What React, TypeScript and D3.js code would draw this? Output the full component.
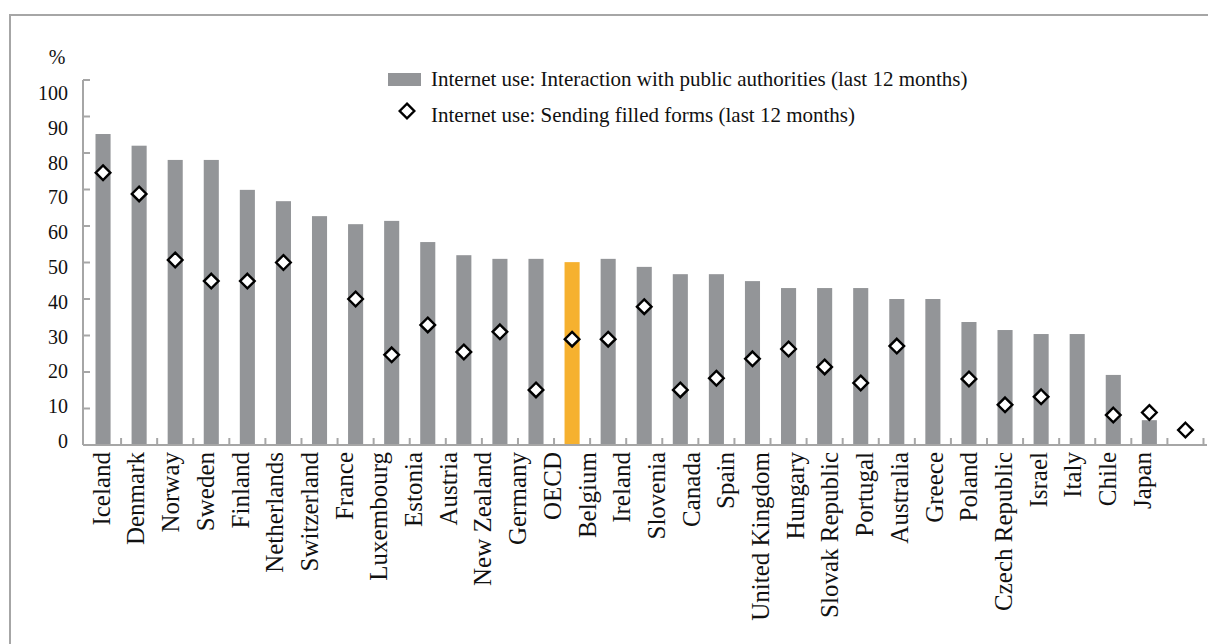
import React from "react";
import * as d3 from "d3";

const categories = [
  "Iceland", "Denmark", "Norway", "Sweden", "Finland", "Netherlands", "Switzerland",
  "France", "Luxembourg", "Estonia", "Austria", "New Zealand", "Germany", "OECD",
  "Belgium", "Ireland", "Slovenia", "Canada", "Spain", "United Kingdom", "Hungary",
  "Slovak Republic", "Portugal", "Australia", "Greece", "Poland", "Czech Republic",
  "Israel", "Italy", "Chile", "Japan",
];

const interaction: (number | null)[] = [
  85.2, 82.0, 78.1, 78.1, 69.9, 66.8, 62.7, 60.5, 61.4, 55.6, 52.0, 51.0, 51.0, 50.1,
  51.0, 48.8, 46.8, 46.8, 44.9, 43.0, 43.0, 43.0, 40.0, 40.0, 33.7, 31.5, 30.4, 30.4,
  19.2, 6.8, null,
];

const sendingForms: (number | null)[] = [
  74.6, 68.8, 50.7, 44.9, 44.9, 50.0, null, 40.0, 24.7, 32.9, 25.5, 31.0, 15.1, 29.0,
  29.0, 37.9, 15.1, 18.3, 23.6, 26.3, 21.4, 17.0, 27.1, null, 18.1, 11.0, 13.2, null,
  8.2, 8.9, 4.1,
];

const yTicks = [0, 10, 20, 30, 40, 50, 60, 70, 80, 90, 100];
const highlight = "OECD";
const legendLabels = [
  "Internet use: Interaction with public authorities (last 12 months)",
  "Internet use: Sending filled forms (last 12 months)",
];

const FONT = "'Liberation Serif', 'Times New Roman', serif";
const GRAY = "#939598";
const ORANGE = "#F6B12F";
const AXIS = "#A6A6A6";

export default function App() {
  const W = 1208;
  const H = 644;
  const n = categories.length;
  const step = 36.08;
  const x0 = 85;
  const pad = 21 / step;
  const xBar = d3
    .scaleBand<string>()
    .domain(categories)
    .range([x0, x0 + n * step])
    .paddingInner(pad)
    .paddingOuter(pad / 2);
  const xLabel = d3.scaleBand<string>().domain(categories).range([83.6, 1159.4]);
  const y = d3.scaleLinear().domain([0, 100]).range([445, 80]);
  const yLabel = d3.scaleLinear().domain([0, 100]).range([441, 93]);

  const bw = xBar.bandwidth();
  const axisLeft = 83;
  const axisRight = 1207;
  const boundaries = d3.range(1, n + 1).map((k) => x0 + k * xBar.step());

  const diamond = (cx: number, cy: number, r: number) =>
    `M${cx},${cy - r}L${cx + r},${cy}L${cx},${cy + r}L${cx - r},${cy}Z`;

  return (
    <svg
      width={W}
      height={H}
      style={{ position: "absolute", left: 0, top: 0, background: "#fff" }}
      fontFamily={FONT}
    >
      <rect x={0} y={0} width={W} height={H} fill="#fff" />
      <rect x={10} y={15} width={1240} height={700} fill="none" stroke={AXIS} strokeWidth={2} />

      {/* bars */}
      {categories.map((c, i) =>
        interaction[i] == null ? null : (
          <rect
            key={"b" + c}
            x={xBar(c)!}
            y={y(interaction[i] as number)}
            width={bw}
            height={y(0) - y(interaction[i] as number)}
            fill={c === highlight ? ORANGE : GRAY}
          />
        )
      )}

      {/* axes */}
      <line x1={axisLeft} x2={axisLeft} y1={y(100)} y2={y(0)} stroke={AXIS} strokeWidth={2} />
      {yTicks.map((t) => (
        <line key={"yt" + t} x1={axisLeft} x2={axisLeft + 7} y1={y(t)} y2={y(t)} stroke={AXIS} strokeWidth={2} />
      ))}
      <line x1={axisLeft} x2={axisRight} y1={y(0)} y2={y(0)} stroke={AXIS} strokeWidth={2} />
      {boundaries.map((bx, k) => (
        <line key={"xt" + k} x1={bx} x2={bx} y1={y(0)} y2={y(0) - 7} stroke={AXIS} strokeWidth={2} />
      ))}

      {/* diamonds */}
      {categories.map((c, i) =>
        sendingForms[i] == null ? null : (
          <path
            key={"d" + c}
            d={diamond(xBar(c)! + bw / 2, y(sendingForms[i] as number), 7.3)}
            fill="#fff"
            stroke="#000"
            strokeWidth={2.4}
          />
        )
      )}

      {/* y labels */}
      {yTicks.map((t) => (
        <text key={"yl" + t} x={68} y={yLabel(t)} dy="0.35em" textAnchor="end" fontSize={20} fill="#111">
          {t}
        </text>
      ))}
      <text x={57} y={57} dy="0.35em" textAnchor="middle" fontSize={20} fill="#111">
        %
      </text>

      {/* x labels */}
      {categories.map((c) => (
        <text
          key={"xl" + c}
          transform={`translate(${xLabel(c)! + xLabel.bandwidth() / 2},452) rotate(-90)`}
          textAnchor="end"
          dy="0.35em"
          fontSize={25}
          fill="#111"
        >
          {c}
        </text>
      ))}

      {/* legend */}
      <rect x={388} y={73} width={33} height={13} fill={GRAY} />
      <text x={431} y={79} dy="0.35em" fontSize={21} fill="#111">
        {legendLabels[0]}
      </text>
      <path d={diamond(407, 111, 7.3)} fill="#fff" stroke="#000" strokeWidth={2.4} />
      <text x={431} y={115} dy="0.35em" fontSize={21} fill="#111">
        {legendLabels[1]}
      </text>
    </svg>
  );
}
